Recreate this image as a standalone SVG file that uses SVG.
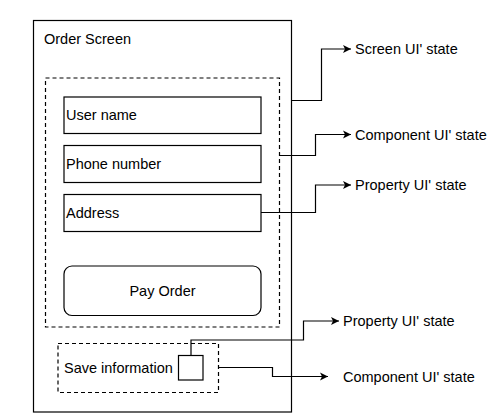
<svg xmlns="http://www.w3.org/2000/svg" width="504" height="419" viewBox="0 0 504 419">
<defs>
<marker id="arr" markerWidth="10" markerHeight="10" refX="8" refY="5" orient="auto" markerUnits="userSpaceOnUse">
<path d="M0,1 L8,5 L0,9 L2,5 Z" fill="#000"/>
</marker>
<style>
.box{fill:#fff;stroke:#000;stroke-width:1.2}
.dash{fill:none;stroke:#000;stroke-width:1.2;stroke-dasharray:4 3}
.t{font-family:"Liberation Sans",Arial,sans-serif;font-size:14.5px;fill:#000}
.c{fill:none;stroke:#000;stroke-width:1.2}
</style>
</defs>
<rect width="504" height="419" fill="#fff"/>
<g id="order-screen">
<rect class="box" x="33.5" y="20.5" width="258" height="391.5"/>
<text class="t" x="44" y="44">Order Screen</text>
</g>
<g id="form-group">
<rect class="dash" x="45.5" y="78" width="234" height="249"/>
</g>
<g id="user-name">
<rect class="box" x="64" y="97" width="197" height="36.5"/>
<text class="t" x="66" y="120">User name</text>
</g>
<g id="phone-number">
<rect class="box" x="64" y="145.5" width="197" height="37"/>
<text class="t" x="66" y="169">Phone number</text>
</g>
<g id="address">
<rect class="box" x="64" y="194.5" width="197" height="37"/>
<text class="t" x="66" y="217.5">Address</text>
</g>
<g id="pay-order">
<rect class="box" x="64" y="266" width="197" height="49.5" rx="8"/>
<text class="t" x="162.5" y="295.5" text-anchor="middle">Pay Order</text>
</g>
<g id="save-information">
<rect class="dash" x="58" y="343.5" width="160.5" height="49"/>
<text class="t" x="64" y="372.5">Save information</text>
</g>
<g id="checkbox">
<rect class="box" x="178.5" y="355.5" width="24.5" height="24.5"/>
</g>
<g id="connectors">
<path class="c" d="M291.5,100.5 H321.5 V49 H351" marker-end="url(#arr)"/>
<path class="c" d="M279.5,155.5 H315.5 V134.5 H351" marker-end="url(#arr)"/>
<path class="c" d="M261,212.5 H315.5 V185 H351" marker-end="url(#arr)"/>
<path class="c" d="M191,355.5 V340 H303.5 V321 H339" marker-end="url(#arr)"/>
<path class="c" d="M218.5,367.5 H272.5 V376.5 H328" marker-end="url(#arr)"/>
</g>
<g id="labels">
<text class="t" x="355" y="54">Screen UI' state</text>
<text class="t" x="355" y="139.5">Component UI' state</text>
<text class="t" x="355" y="190">Property UI' state</text>
<text class="t" x="343" y="326">Property UI' state</text>
<text class="t" x="343" y="381.5">Component UI' state</text>
</g>
</svg>
